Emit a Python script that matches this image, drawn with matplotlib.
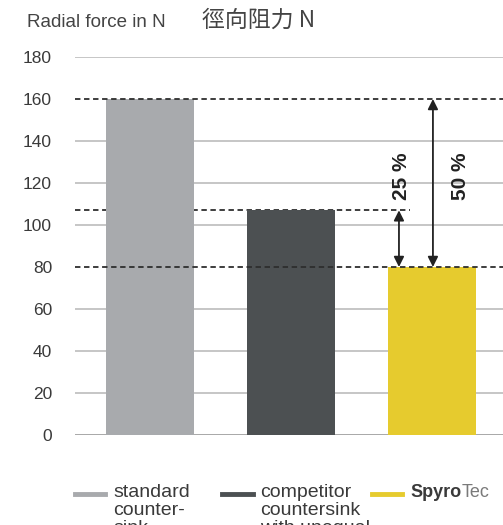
import matplotlib
matplotlib.use('Agg')
import matplotlib.pyplot as plt

plt.rcParams['font.family'] = ['Liberation Sans', 'Noto Sans CJK TC', 'DejaVu Sans']

# data
categories = ['standard\ncounter-\nsink', 'competitor\ncountersink\nwith unequal', 'SpyroTec']
values = [160, 107, 80]
colors = ['#a8aaad', '#4c5052', '#e6cb2e']
yticks = [0, 20, 40, 60, 80, 100, 120, 140, 160, 180]
pct_labels = ['25 %', '50 %']

W, H = 503, 525
fig = plt.figure(figsize=(W / 100, H / 100), dpi=100)
ax = fig.add_axes([75 / W, 1 - 435 / H, 1 - 75 / W, (435 - 57) / H])
x = list(range(len(values)))
xmin, xmax = -0.532, 2.504
ax.set_xlim(xmin, xmax)
ax.set_ylim(0, 180)

# grid lines (solid), skipping the ones replaced by dashed reference lines
for t in yticks:
    if t in (160, 80):
        continue
    ax.axhline(t, color='#bcbcbc' if t else '#9a9a9a', lw=1.2, zorder=1)

# dashed reference lines
dash = dict(color='#2e2e2e', lw=1.3, ls=(0, (3, 2)))
ax.axhline(values[0], zorder=3, **dash)
ax.hlines(values[1], xmin, 1.844, zorder=1, **dash)
ax.axhline(values[2], zorder=3, **dash)

ax.bar(x, values, width=0.62, color=colors, zorder=2)

# arrows
arr = dict(arrowstyle='<|-|>', color='#222222', lw=1.3, mutation_scale=15, shrinkA=0, shrinkB=0)
ax.annotate('', xy=(1.766, values[1]), xytext=(1.766, values[2]), arrowprops=arr, zorder=4)
ax.annotate('', xy=(2.007, values[0]), xytext=(2.007, values[2]), arrowprops=arr, zorder=4)
ax.text(1.787, 123, pct_labels[0], rotation=90, ha='center', va='center',
        fontsize=15, fontweight='bold', color='#222222', family='Liberation Sans')
ax.text(2.199, 123, pct_labels[1], rotation=90, ha='center', va='center',
        fontsize=15, fontweight='bold', color='#222222', family='Liberation Sans')

ax.set_yticks(yticks)
ax.set_yticklabels([str(t) for t in yticks], fontsize=12.5, color='#3a3a3a',
                   family='Liberation Sans')
ax.tick_params(axis='y', length=0, pad=16.5)
ax.set_xticks([])
for s in ax.spines.values():
    s.set_visible(False)

# title
fig.text(27 / W, 1 - 27 / H, 'Radial force in N', fontsize=13.5, color='#444444',
         va='baseline', family='Liberation Sans')
fig.text(202 / W, 1 - 27 / H, '徑向阻力 N', fontsize=16.5, color='#444444',
         va='baseline', family=['Noto Sans CJK TC', 'DejaVu Sans'])

# legend drawn by hand
leg_x = [(75, 105, 113), (222, 253, 260), (372, 402, 410)]
for (x0, x1, tx), lab, c in zip(leg_x, categories, colors):
    fig.add_artist(plt.Line2D([x0 / W, x1 / W], [1 - 494 / H] * 2, color=c, lw=3.5))
    if lab == 'SpyroTec':
        t = fig.text(tx / W, 1 - 497 / H, 'Spyro', fontsize=13, fontweight='bold',
                     color='#3a3a3a', va='baseline', family='Liberation Sans')
        fig.canvas.draw()
        bb = t.get_window_extent()
        fig.text(bb.x1 / W, 1 - 497 / H, 'Tec', fontsize=13, color='#7a7a7a',
                 va='baseline', family='Liberation Sans')
    else:
        for i, line in enumerate(lab.split('\n')):
            fig.text(tx / W, 1 - (497 + 18 * i) / H, line, fontsize=14, color='#3a3a3a',
                     va='baseline', family='Liberation Sans')

fig.savefig('out.png', dpi=100)
